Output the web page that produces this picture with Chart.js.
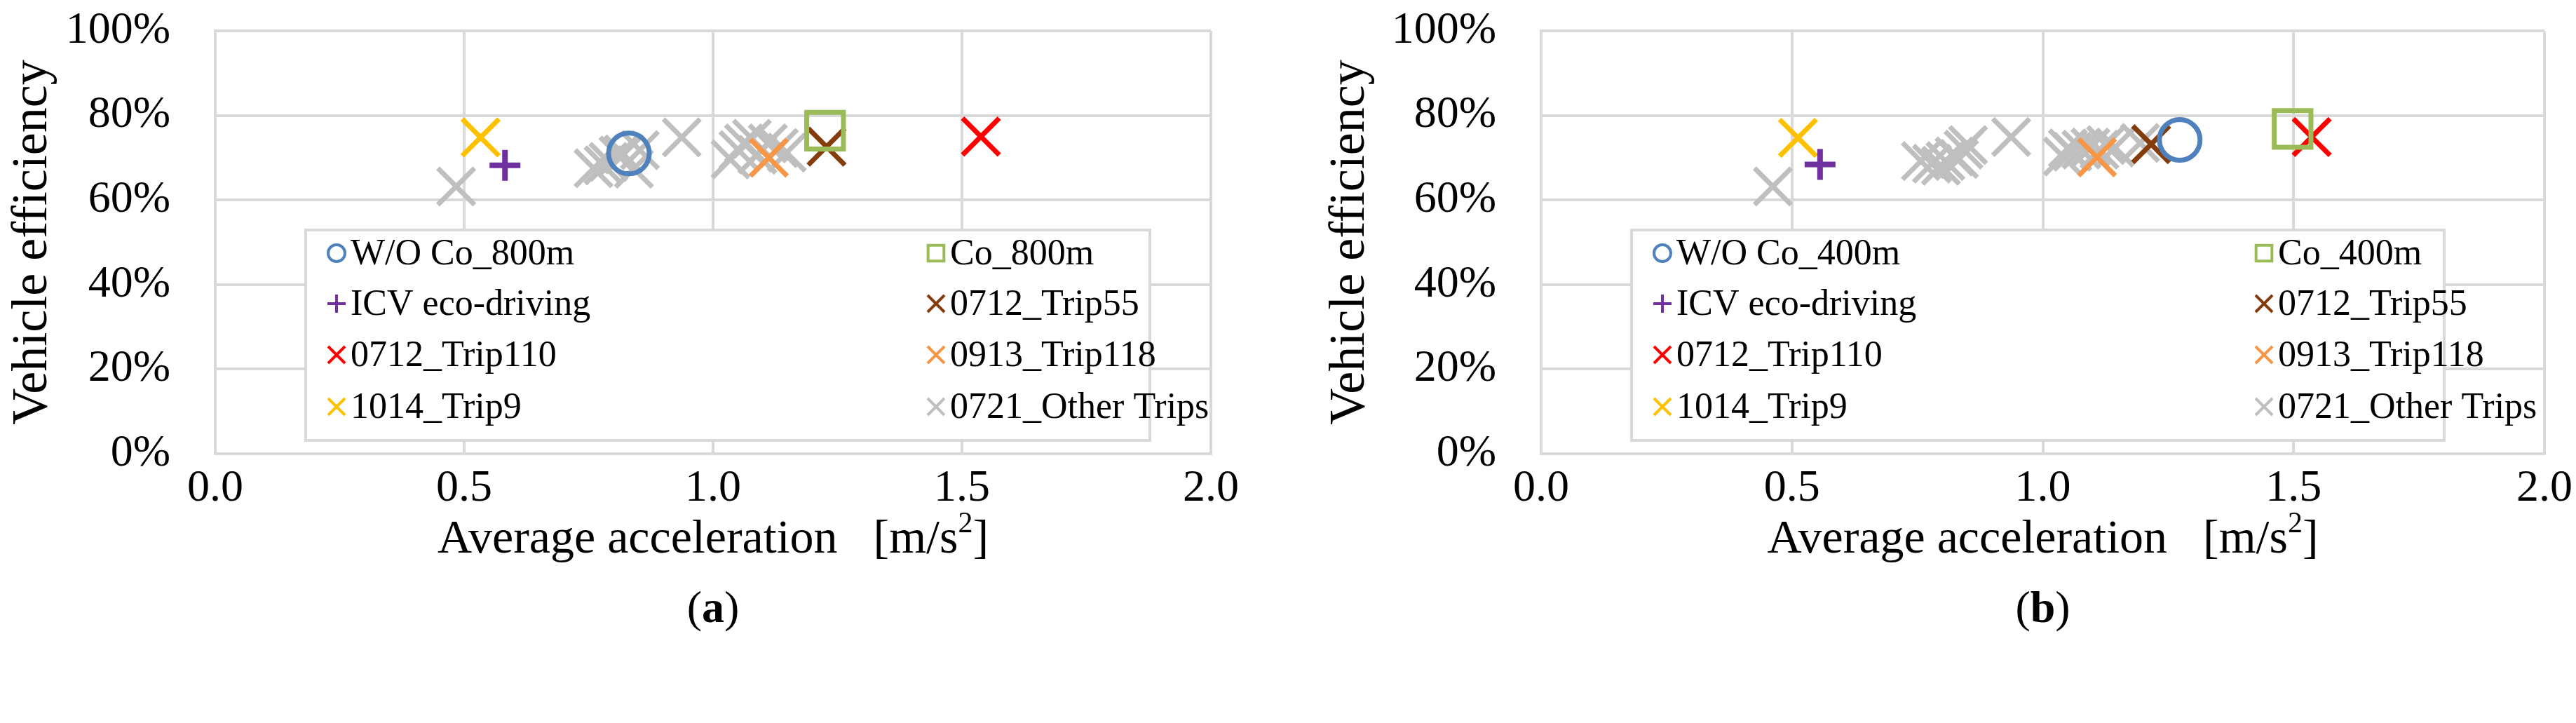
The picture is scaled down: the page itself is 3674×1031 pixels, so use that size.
<!DOCTYPE html>
<html><head><meta charset="utf-8">
<script src="https://cdn.jsdelivr.net/npm/chart.js@4"></script>
<style>
html,body{margin:0;padding:0;background:#fff;}
#wrap{position:relative;width:3674px;height:1031px;}
.c{position:absolute;top:0;width:1837px;height:1031px;}
</style></head><body>
<div id="wrap"><div class="c" style="left:0"><canvas id="ca"></canvas></div><div class="c" style="left:1837px"><canvas id="cb"></canvas></div></div>
<script>
// Series names
const seriesNames = ["W/O Co", "Co", "ICV eco-driving", "0712_Trip55", "0712_Trip110", "0913_Trip118", "1014_Trip9", "0721_Other Trips"];
const xTicks = ["0.0","0.5","1.0","1.5","2.0"];
const yTicks = ["0%","20%","40%","60%","80%","100%"];
// Chart (a): 800m  [acceleration, efficiency%]
const a_woCo = [[0.831, 71.0]];
const a_co = [[1.225, 76.4]];
const a_icv = [[0.582, 68.2]];
const a_trip55 = [[1.228, 72.6]];
const a_trip110 = [[1.538, 75.0]];
const a_trip118 = [[1.112, 70.0]];
const a_trip9 = [[0.533, 74.8]];
const a_others = [[0.484,63.2],[0.76,67.5],[0.78,68.2],[0.79,69.0],[0.81,70.5],[0.82,70.8],[0.841,67.4],[0.853,71.8],[0.937,74.8],
  [1.035,69.6],[1.051,71.8],[1.062,73.4],[1.078,74.5],[1.089,70.7],[1.11,73.4],[1.132,72.3],[1.148,71.2]];
// Chart (b): 400m
const b_woCo = [[1.273, 74.2]];
const b_co = [[1.498, 76.8]];
const b_icv = [[0.556, 68.4]];
const b_trip55 = [[1.216, 73.2]];
const b_trip110 = [[1.536, 74.9]];
const b_trip118 = [[1.108, 70.1]];
const b_trip9 = [[0.512, 74.7]];
const b_others = [[0.462,63.2],[0.757,69.2],[0.779,68.6],[0.797,68.1],[0.806,69.2],[0.824,70.3],[0.833,69.7],[0.842,71.9],[0.851,73.0],[0.937,74.9],
  [1.04,70.3],[1.05,72.2],[1.059,71.4],[1.077,71.9],[1.095,72.4],[1.113,71.9],[1.126,73.0],[1.144,72.4],[1.194,73.5]];

const FONT = "'Liberation Serif','Times New Roman',serif";
const styles = [
  {ps:'circle', c:'#4f81bd', r:29, bw:7, lr:12},
  {ps:'rect', c:'#9bbb59', r:37, bw:7, lr:16},
  {ps:'cross', c:'#7030a0', r:22, bw:8, lr:13},
  {ps:'crossRot', c:'#843c0c', r:37, bw:7, lr:17},
  {ps:'crossRot', c:'#ff0000', r:37, bw:7, lr:17},
  {ps:'crossRot', c:'#f79646', r:37, bw:7, lr:17},
  {ps:'crossRot', c:'#ffc000', r:37, bw:7, lr:17},
  {ps:'crossRot', c:'#bfbfbf', r:37, bw:7, lr:17}
];
function pts(arr){ return arr.map(p => ({x:p[0], y:p[1]})); }

const legendPlugin = {
  id:'customLegend',
  afterDatasetsDraw(chart, args, o){
    const ctx = chart.ctx;
    ctx.save();
    ctx.strokeStyle = '#d9d9d9'; ctx.lineWidth = 4; ctx.fillStyle = '#fff';
    ctx.fillRect(o.box[0], o.box[1], o.box[2], o.box[3]);
    ctx.strokeRect(o.box[0], o.box[1], o.box[2], o.box[3]);
    chart.data.datasets.forEach((ds, i) => {
      const col = i % 2, row = Math.floor(i/2);
      const mx = o.cols[col], my = o.rows[row];
      const st = styles[i];
      ctx.strokeStyle = st.c; ctx.fillStyle = '#fff';
      Chart.helpers.drawPoint(ctx, {pointStyle: st.ps, radius: st.lr, borderWidth: 6, rotation:0}, mx, my);
      ctx.fillStyle = '#000'; ctx.font = '52px ' + FONT; ctx.textBaseline = 'middle'; ctx.textAlign='left';
      ctx.fillText(ds.label, mx + 20, my + 2);
    });
    ctx.restore();
  },
  afterDraw(chart, args, o){
    const ctx = chart.ctx, ca = chart.chartArea;
    ctx.save();
    ctx.fillStyle = '#000'; ctx.textAlign = 'center'; ctx.textBaseline = 'middle';
    // x title
    ctx.font = '68px ' + FONT;
    const t1 = 'Average acceleration   [m/s', t2 = ']';
    const w1 = ctx.measureText(t1).width; ctx.font = '42px ' + FONT; const ws = ctx.measureText('2').width;
    ctx.font = '68px ' + FONT; const w2 = ctx.measureText(t2).width;
    const cx = (ca.left + ca.right)/2, tot = w1+ws+w2; let sx = cx - tot/2;
    ctx.textAlign = 'left';
    ctx.fillText(t1, sx, 770);
    ctx.font = '42px ' + FONT; ctx.fillText('2', sx + w1, 748);
    ctx.font = '68px ' + FONT; ctx.fillText(t2, sx + w1 + ws, 770);
    // panel label
    ctx.textAlign = 'center';
    ctx.font = '64px ' + FONT; const lw = ctx.measureText('(').width; ctx.font='bold 64px '+FONT; const aw = ctx.measureText(o.panel).width;
    ctx.font = '64px ' + FONT; ctx.fillText('(', cx - aw/2 - lw/2, 870); ctx.fillText(')', cx + aw/2 + lw/2, 870);
    ctx.font = 'bold 64px ' + FONT; ctx.fillText(o.panel, cx, 870);
    // y title
    ctx.translate(o.yTitleX, (ca.top + ca.bottom)/2);
    ctx.rotate(-Math.PI/2);
    ctx.font = '72px ' + FONT;
    ctx.fillText('Vehicle efficiency', 0, 0);
    ctx.restore();
  }
};

function makeChart(id, sets, suffix, panel, plotLeft, plotRight, yTitleX, legend){
  const labels = seriesNames.map((n,i) => i < 2 ? n + '_' + suffix : n);
  const datasets = sets.map((s,i) => ({
    label: labels[i], data: pts(s),
    pointStyle: styles[i].ps, pointRadius: styles[i].r, pointHoverRadius: styles[i].r,
    pointBorderWidth: styles[i].bw, pointHoverBorderWidth: styles[i].bw,
    borderColor: styles[i].c, pointBorderColor: styles[i].c, backgroundColor: '#fff', pointBackgroundColor: i<2 ? 'rgba(255,255,255,0)' : styles[i].c,
    showLine:false
  }));
  datasets.forEach((d,i)=>{ d.order = i===7 ? 10 : (i===1||i===0 ? 0 : 5); });
  return new Chart(document.getElementById(id), {
    type:'scatter',
    data:{datasets},
    options:{
      responsive:false, animation:false, devicePixelRatio:1,
      layout:{padding:{left:0, right:1837-plotRight, top:42, bottom:124}},
      plugins:{legend:{display:false}, tooltip:{enabled:false}, customLegend:Object.assign({panel, yTitleX}, legend)},
      scales:{
        x:{type:'linear', min:0, max:2,
           ticks:{stepSize:0.5, color:'#000', font:{family:FONT, size:64}, padding:12, callback:(v)=>{const i=Math.round(v/0.5); return xTicks[i];}},
           grid:{color:'#d9d9d9', lineWidth:4, drawTicks:false}, border:{color:'#d9d9d9', width:4},
           afterFit(s){ s.height = 1031-124-647; s.paddingLeft=0; s.paddingRight=0; }},
        y:{type:'linear', min:0, max:100,
           ticks:{stepSize:20, color:'#000', font:{family:FONT, size:64}, padding:64, callback:(v)=>yTicks[Math.round(v/20)]},
           grid:{color:'#d9d9d9', lineWidth:4, drawTicks:false}, border:{color:'#d9d9d9', width:4},
           afterFit(s){ s.width = plotLeft; s.paddingTop=0; s.paddingBottom=0; }}
      }
    },
    plugins:[legendPlugin]
  });
}
function setup(id){ const c=document.getElementById(id); c.width=1837; c.height=1031; c.style.width='1837px'; c.style.height='1031px'; }
setup('ca'); setup('cb');
makeChart('ca', [a_woCo,a_co,a_icv,a_trip55,a_trip110,a_trip118,a_trip9,a_others], '800m', 'a', 307, 1727, 47,
  {box:[436,328,1204,300], cols:[480,1335], rows:[361,433,506,580]});
makeChart('cb', [b_woCo,b_co,b_icv,b_trip55,b_trip110,b_trip118,b_trip9,b_others], '400m', 'b', 361, 1792, 89,
  {box:[490,328,1159,300], cols:[534,1392], rows:[361,433,506,580]});
</script></body></html>
